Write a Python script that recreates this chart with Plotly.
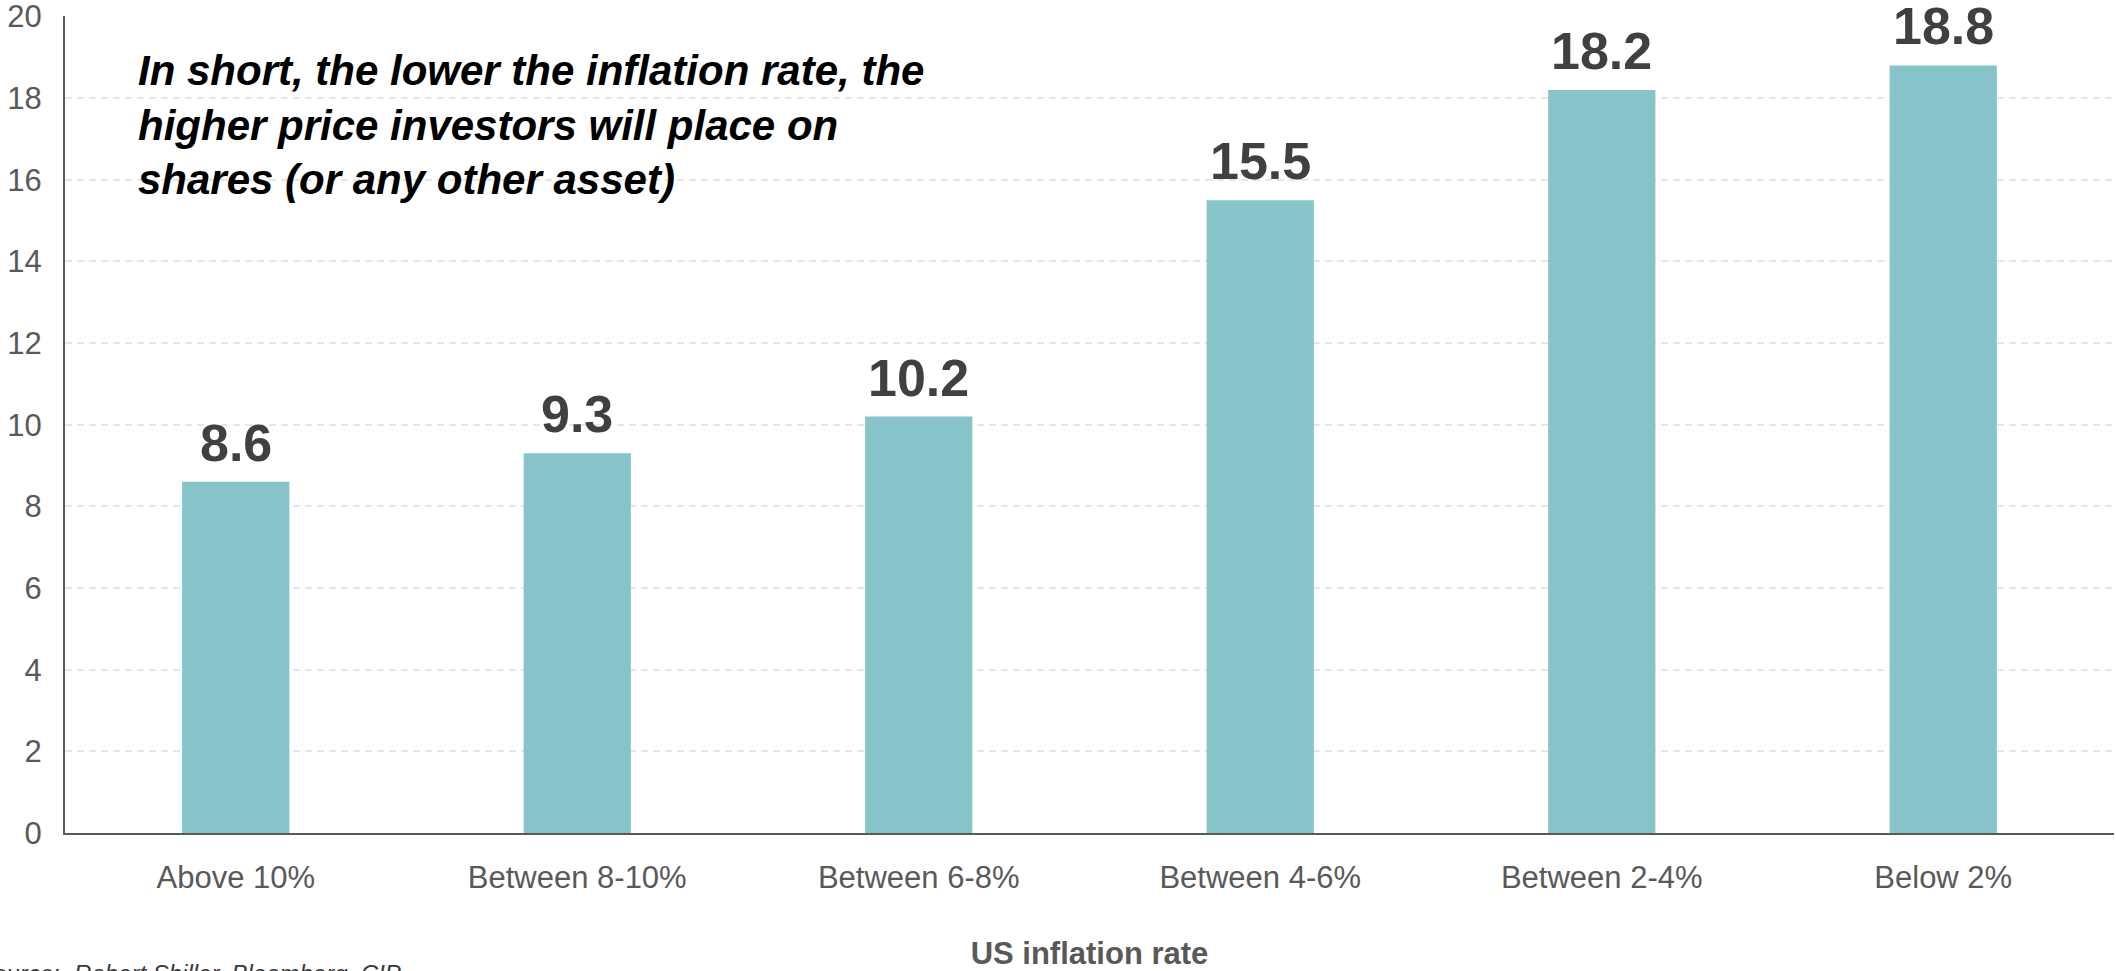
import plotly.graph_objects as go

categories = ["Above 10%", "Between 8-10%", "Between 6-8%", "Between 4-6%", "Between 2-4%", "Below 2%"]
pe_values = [8.6, 9.3, 10.2, 15.5, 18.2, 18.8]
y_ticks = [0, 2, 4, 6, 8, 10, 12, 14, 16, 18, 20]

BAR_COLOR = "#86C4CA"
TICK_COLOR = "#595959"
LABEL_COLOR = "#404040"
FONT = "Liberation Sans, Arial, sans-serif"

fig = go.Figure()
fig.add_trace(go.Bar(
    x=categories,
    y=pe_values,
    marker=dict(color=BAR_COLOR, line=dict(width=0)),
    width=0.314,
    hoverinfo="x+y",
))

# value labels above bars
for c, v in zip(categories, pe_values):
    fig.add_annotation(
        x=c, y=v, xref="x", yref="y",
        text=f"{v:.1f}", showarrow=False,
        yanchor="bottom", yshift=8,
        font=dict(family=FONT, size=52, color=LABEL_COLOR, weight="bold"),
    )

# commentary text
fig.add_annotation(
    xref="paper", yref="paper", x=0.0347, y=0.866,
    xanchor="left", yanchor="middle", align="left",
    text="<b><i>In short, the lower the inflation rate, the<br>higher price investors will place on<br>shares (or any other asset)</i></b>",
    showarrow=False,
    font=dict(family=FONT, size=42, color="#000000"),
)

# source note (partially cut off at the bottom-left edge)
fig.add_annotation(
    xref="paper", yref="paper", x=-0.0435, y=-0.153,
    xanchor="left", yanchor="top", align="left",
    text="Source:  <i>Robert Shiller, Bloomberg, CIP</i>",
    showarrow=False,
    font=dict(family=FONT, size=24, color="#3a3a3a"),
)

fig.update_layout(
    width=2116, height=971,
    margin=dict(l=65, r=2, t=16, b=138, autoexpand=False),
    paper_bgcolor="white", plot_bgcolor="white",
    showlegend=False,
    bargap=0.686,
    xaxis=dict(
        type="category", automargin=False,
        showline=True, linecolor=TICK_COLOR, linewidth=2,
        showgrid=False, ticks="",
        tickfont=dict(family=FONT, size=31, color=TICK_COLOR),
        ticklabelstandoff=16,
        title=dict(text="<b>US inflation rate</b>", standoff=50,
                   font=dict(family=FONT, size=31, color=TICK_COLOR)),
    ),
    yaxis=dict(
        range=[0, 20.01], tickvals=y_ticks, automargin=False,
        showline=True, linecolor=TICK_COLOR, linewidth=2,
        showgrid=True, gridcolor="#e6e6e6", gridwidth=1.5, griddash="7px,5px",
        zeroline=False, ticks="",
        tickfont=dict(family=FONT, size=31, color=TICK_COLOR),
        ticklabelstandoff=15,
        ticklabeloverflow="allow",
    ),
)

fig.write_html("out.html")
